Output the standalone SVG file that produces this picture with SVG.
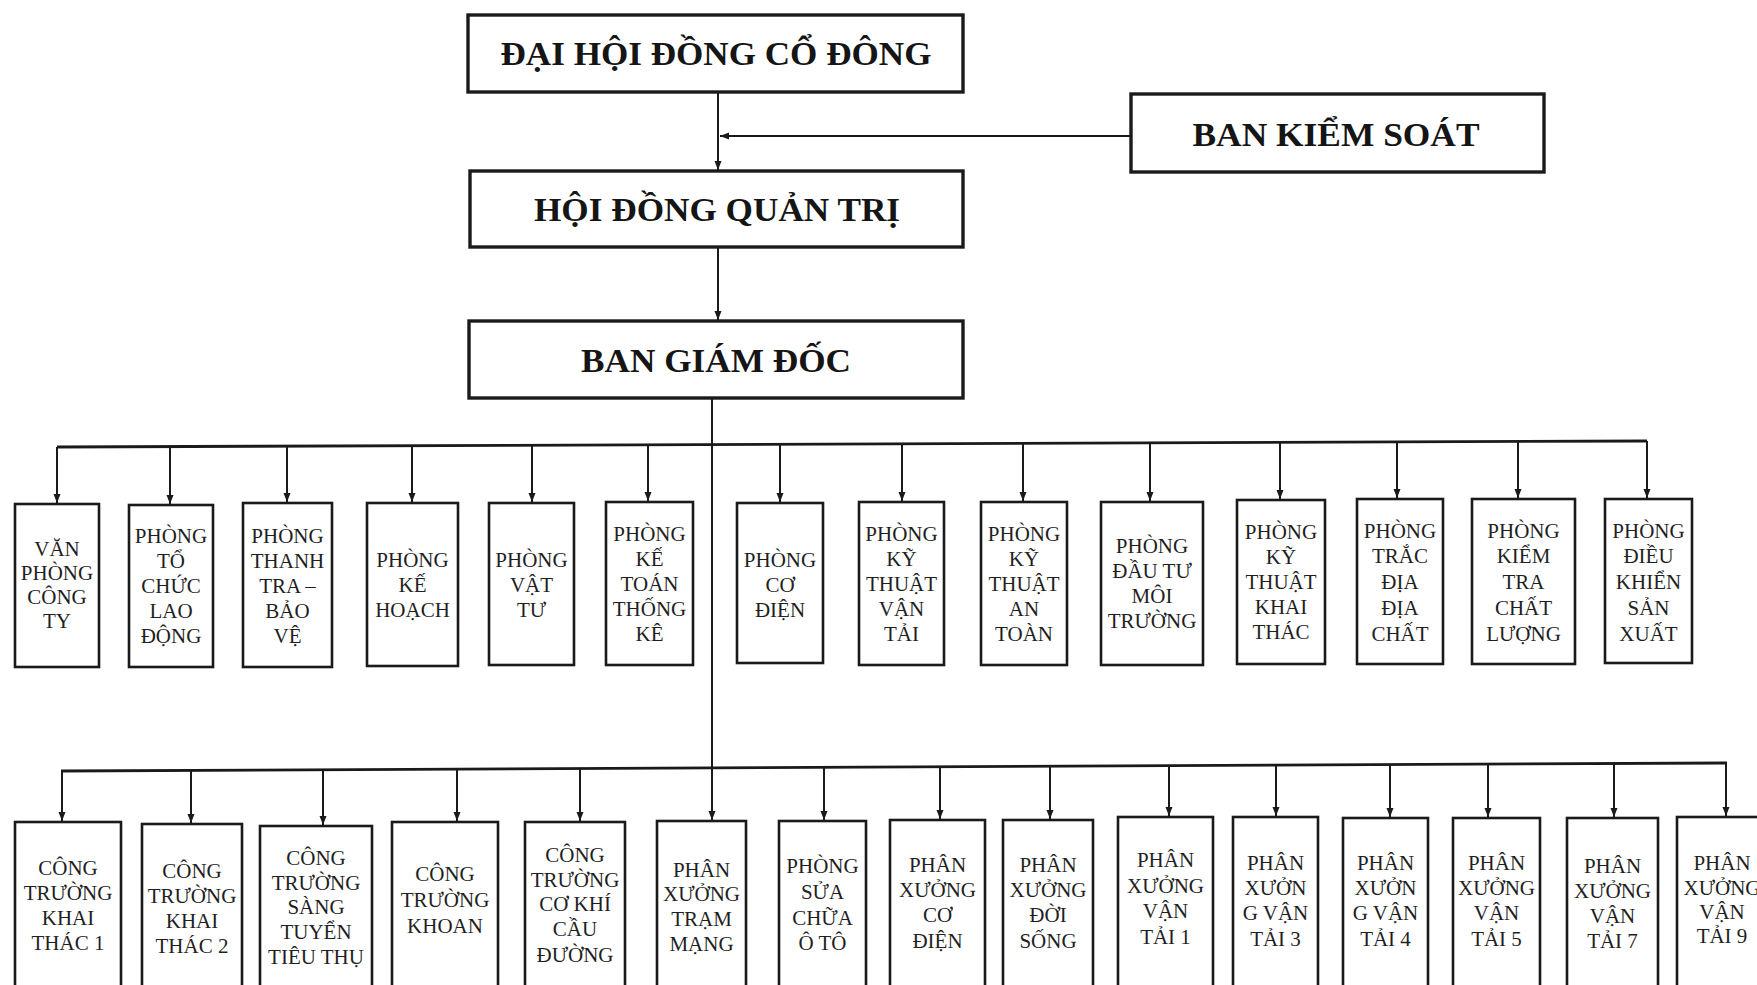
<svg xmlns="http://www.w3.org/2000/svg" width="1757" height="985" viewBox="0 0 1757 985">
<style>
.bg{fill:#ffffff}
.box{fill:#ffffff;stroke:#1a1a1a;stroke-width:2.6}
.big{fill:#ffffff;stroke:#1a1a1a;stroke-width:3.4}
.ln{fill:none;stroke:#1a1a1a;stroke-width:2}
.bus{fill:none;stroke:#1a1a1a;stroke-width:2.8}
.t{font-family:"Liberation Serif","DejaVu Serif",serif;font-size:21px;text-anchor:middle;fill:#1f1f1f}
.h{font-family:"Liberation Serif","DejaVu Serif",serif;font-size:33px;font-weight:bold;text-anchor:middle;fill:#151515}
</style>
<defs>
<marker id="ah" markerUnits="userSpaceOnUse" markerWidth="10" markerHeight="10" refX="9" refY="5" orient="auto">
<path d="M0,1.5 L9,5 L0,8.5 Z" fill="#1a1a1a"/>
</marker>
</defs>
<rect class="bg" x="0" y="0" width="1757" height="985"/>

<g id="connectors">
<line class="ln" x1="718" y1="92" x2="718" y2="170" marker-end="url(#ah)"/>
<line class="ln" x1="1131" y1="136" x2="720" y2="136" marker-end="url(#ah)"/>
<line class="ln" x1="718" y1="247" x2="718" y2="320" marker-end="url(#ah)"/>
<line class="ln" x1="712" y1="398" x2="712" y2="820" marker-end="url(#ah)"/>
<line class="bus" x1="57" y1="447" x2="1647" y2="441"/>
<line class="ln" x1="57" y1="447" x2="57" y2="503" marker-end="url(#ah)"/>
<line class="ln" x1="170" y1="446.6" x2="170" y2="504" marker-end="url(#ah)"/>
<line class="ln" x1="287" y1="446.1" x2="287" y2="502" marker-end="url(#ah)"/>
<line class="ln" x1="412" y1="445.7" x2="412" y2="502" marker-end="url(#ah)"/>
<line class="ln" x1="532" y1="445.2" x2="532" y2="502" marker-end="url(#ah)"/>
<line class="ln" x1="648" y1="444.8" x2="648" y2="501" marker-end="url(#ah)"/>
<line class="ln" x1="780" y1="444.3" x2="780" y2="502" marker-end="url(#ah)"/>
<line class="ln" x1="902" y1="443.8" x2="902" y2="501" marker-end="url(#ah)"/>
<line class="ln" x1="1023" y1="443.4" x2="1023" y2="501" marker-end="url(#ah)"/>
<line class="ln" x1="1150" y1="442.9" x2="1150" y2="501" marker-end="url(#ah)"/>
<line class="ln" x1="1280" y1="442.4" x2="1280" y2="499" marker-end="url(#ah)"/>
<line class="ln" x1="1397" y1="442" x2="1397" y2="498" marker-end="url(#ah)"/>
<line class="ln" x1="1518" y1="441.5" x2="1518" y2="498" marker-end="url(#ah)"/>
<line class="ln" x1="1647" y1="441" x2="1647" y2="498" marker-end="url(#ah)"/>
<line class="bus" x1="61" y1="771" x2="1727" y2="763"/>
<line class="ln" x1="62" y1="771" x2="62" y2="821" marker-end="url(#ah)"/>
<line class="ln" x1="191" y1="770.4" x2="191" y2="823" marker-end="url(#ah)"/>
<line class="ln" x1="323" y1="769.7" x2="323" y2="825" marker-end="url(#ah)"/>
<line class="ln" x1="457" y1="769.1" x2="457" y2="821" marker-end="url(#ah)"/>
<line class="ln" x1="580" y1="768.5" x2="580" y2="821" marker-end="url(#ah)"/>
<line class="ln" x1="824" y1="767.3" x2="824" y2="820" marker-end="url(#ah)"/>
<line class="ln" x1="940" y1="766.8" x2="940" y2="819" marker-end="url(#ah)"/>
<line class="ln" x1="1050" y1="766.3" x2="1050" y2="819" marker-end="url(#ah)"/>
<line class="ln" x1="1169" y1="765.7" x2="1169" y2="816" marker-end="url(#ah)"/>
<line class="ln" x1="1276" y1="765.2" x2="1276" y2="816" marker-end="url(#ah)"/>
<line class="ln" x1="1390" y1="764.6" x2="1390" y2="817" marker-end="url(#ah)"/>
<line class="ln" x1="1488" y1="764.1" x2="1488" y2="817" marker-end="url(#ah)"/>
<line class="ln" x1="1614" y1="763.5" x2="1614" y2="817" marker-end="url(#ah)"/>
<line class="ln" x1="1726" y1="763" x2="1726" y2="816" marker-end="url(#ah)"/>
</g>

<g id="dhdcd"><rect class="big" x="468" y="15" width="495" height="77"/><text class="h" x="716" y="65" textLength="431" lengthAdjust="spacingAndGlyphs">ĐẠI HỘI ĐỒNG CỔ ĐÔNG</text></g>
<g id="bks"><rect class="big" x="1131" y="94" width="413" height="78"/><text class="h" x="1336" y="146" textLength="287" lengthAdjust="spacingAndGlyphs">BAN KIỂM SOÁT</text></g>
<g id="hdqt"><rect class="big" x="470" y="171" width="493" height="76"/><text class="h" x="717" y="221" textLength="366" lengthAdjust="spacingAndGlyphs">HỘI ĐỒNG QUẢN TRỊ</text></g>
<g id="bgd"><rect class="big" x="469" y="321" width="494" height="77"/><text class="h" x="716" y="372" textLength="270" lengthAdjust="spacingAndGlyphs">BAN GIÁM ĐỐC</text></g>

<g id="r1-1"><rect class="box" x="15" y="504" width="84" height="163"/><text class="t"><tspan x="57" y="556">VĂN</tspan><tspan x="57" y="580">PHÒNG</tspan><tspan x="57" y="604">CÔNG</tspan><tspan x="57" y="628">TY</tspan></text></g>
<g id="r1-2"><rect class="box" x="129" y="505" width="84" height="162"/><text class="t"><tspan x="171" y="543">PHÒNG</tspan><tspan x="171" y="568">TỔ</tspan><tspan x="171" y="593">CHỨC</tspan><tspan x="171" y="618">LAO</tspan><tspan x="171" y="643">ĐỘNG</tspan></text></g>
<g id="r1-3"><rect class="box" x="243" y="503" width="89" height="164"/><text class="t"><tspan x="287.5" y="543">PHÒNG</tspan><tspan x="287.5" y="568">THANH</tspan><tspan x="287.5" y="593">TRA –</tspan><tspan x="287.5" y="618">BẢO</tspan><tspan x="287.5" y="643">VỆ</tspan></text></g>
<g id="r1-4"><rect class="box" x="367" y="503" width="91" height="163"/><text class="t"><tspan x="412.5" y="567">PHÒNG</tspan><tspan x="412.5" y="592">KẾ</tspan><tspan x="412.5" y="617">HOẠCH</tspan></text></g>
<g id="r1-5"><rect class="box" x="489" y="503" width="85" height="162"/><text class="t"><tspan x="531.5" y="567">PHÒNG</tspan><tspan x="531.5" y="592">VẬT</tspan><tspan x="531.5" y="617">TƯ</tspan></text></g>
<g id="r1-6"><rect class="box" x="606" y="502" width="87" height="163"/><text class="t"><tspan x="649.5" y="541">PHÒNG</tspan><tspan x="649.5" y="566">KẾ</tspan><tspan x="649.5" y="591">TOÁN</tspan><tspan x="649.5" y="616">THỐNG</tspan><tspan x="649.5" y="641">KÊ</tspan></text></g>
<g id="r1-7"><rect class="box" x="737" y="503" width="86" height="160"/><text class="t"><tspan x="780" y="567">PHÒNG</tspan><tspan x="780" y="592">CƠ</tspan><tspan x="780" y="617">ĐIỆN</tspan></text></g>
<g id="r1-8"><rect class="box" x="859" y="502" width="85" height="163"/><text class="t"><tspan x="901.5" y="541">PHÒNG</tspan><tspan x="901.5" y="566">KỸ</tspan><tspan x="901.5" y="591">THUẬT</tspan><tspan x="901.5" y="616">VẬN</tspan><tspan x="901.5" y="641">TẢI</tspan></text></g>
<g id="r1-9"><rect class="box" x="981" y="502" width="86" height="163"/><text class="t"><tspan x="1024" y="541">PHÒNG</tspan><tspan x="1024" y="566">KỸ</tspan><tspan x="1024" y="591">THUẬT</tspan><tspan x="1024" y="616">AN</tspan><tspan x="1024" y="641">TOÀN</tspan></text></g>
<g id="r1-10"><rect class="box" x="1101" y="502" width="102" height="163"/><text class="t"><tspan x="1152" y="553">PHÒNG</tspan><tspan x="1152" y="578">ĐẦU TƯ</tspan><tspan x="1152" y="603">MÔI</tspan><tspan x="1152" y="628">TRƯỜNG</tspan></text></g>
<g id="r1-11"><rect class="box" x="1237" y="500" width="88" height="164"/><text class="t"><tspan x="1281" y="539">PHÒNG</tspan><tspan x="1281" y="564">KỸ</tspan><tspan x="1281" y="589">THUẬT</tspan><tspan x="1281" y="614">KHAI</tspan><tspan x="1281" y="639">THÁC</tspan></text></g>
<g id="r1-12"><rect class="box" x="1357" y="499" width="86" height="165"/><text class="t"><tspan x="1400" y="538">PHÒNG</tspan><tspan x="1400" y="563">TRẮC</tspan><tspan x="1400" y="589">ĐỊA</tspan><tspan x="1400" y="615">ĐỊA</tspan><tspan x="1400" y="641">CHẤT</tspan></text></g>
<g id="r1-13"><rect class="box" x="1472" y="499" width="103" height="165"/><text class="t"><tspan x="1523.5" y="538">PHÒNG</tspan><tspan x="1523.5" y="563">KIỂM</tspan><tspan x="1523.5" y="589">TRA</tspan><tspan x="1523.5" y="615">CHẤT</tspan><tspan x="1523.5" y="641">LƯỢNG</tspan></text></g>
<g id="r1-14"><rect class="box" x="1605" y="499" width="87" height="164"/><text class="t"><tspan x="1648.5" y="538">PHÒNG</tspan><tspan x="1648.5" y="563">ĐIỀU</tspan><tspan x="1648.5" y="589">KHIỂN</tspan><tspan x="1648.5" y="615">SẢN</tspan><tspan x="1648.5" y="641">XUẤT</tspan></text></g>

<g id="r2-1"><rect class="box" x="15" y="822" width="106" height="190"/><text class="t"><tspan x="68" y="875">CÔNG</tspan><tspan x="68" y="900">TRƯỜNG</tspan><tspan x="68" y="925">KHAI</tspan><tspan x="68" y="950">THÁC 1</tspan></text></g>
<g id="r2-2"><rect class="box" x="142" y="824" width="100" height="190"/><text class="t"><tspan x="192" y="878">CÔNG</tspan><tspan x="192" y="903">TRƯỜNG</tspan><tspan x="192" y="928">KHAI</tspan><tspan x="192" y="953">THÁC 2</tspan></text></g>
<g id="r2-3"><rect class="box" x="260" y="826" width="112" height="190"/><text class="t"><tspan x="316" y="865">CÔNG</tspan><tspan x="316" y="890">TRƯỜNG</tspan><tspan x="316" y="914">SÀNG</tspan><tspan x="316" y="939">TUYỂN</tspan><tspan x="316" y="964">TIÊU THỤ</tspan></text></g>
<g id="r2-4"><rect class="box" x="392" y="822" width="106" height="190"/><text class="t"><tspan x="445" y="881">CÔNG</tspan><tspan x="445" y="907">TRƯỜNG</tspan><tspan x="445" y="933">KHOAN</tspan></text></g>
<g id="r2-5"><rect class="box" x="525" y="822" width="100" height="190"/><text class="t"><tspan x="575" y="862">CÔNG</tspan><tspan x="575" y="887">TRƯỜNG</tspan><tspan x="575" y="911">CƠ KHÍ</tspan><tspan x="575" y="936">CẦU</tspan><tspan x="575" y="962">ĐƯỜNG</tspan></text></g>
<g id="r2-6"><rect class="box" x="657" y="821" width="89" height="190"/><text class="t"><tspan x="701.5" y="877">PHÂN</tspan><tspan x="701.5" y="901">XƯỞNG</tspan><tspan x="701.5" y="926">TRẠM</tspan><tspan x="701.5" y="951">MẠNG</tspan></text></g>
<g id="r2-7"><rect class="box" x="779" y="821" width="87" height="190"/><text class="t"><tspan x="822.5" y="873">PHÒNG</tspan><tspan x="822.5" y="899">SỬA</tspan><tspan x="822.5" y="925">CHỮA</tspan><tspan x="822.5" y="950">Ô TÔ</tspan></text></g>
<g id="r2-8"><rect class="box" x="890" y="820" width="95" height="190"/><text class="t"><tspan x="937.5" y="872">PHÂN</tspan><tspan x="937.5" y="897">XƯỞNG</tspan><tspan x="937.5" y="922">CƠ</tspan><tspan x="937.5" y="948">ĐIỆN</tspan></text></g>
<g id="r2-9"><rect class="box" x="1003" y="820" width="90" height="190"/><text class="t"><tspan x="1048" y="872">PHÂN</tspan><tspan x="1048" y="897">XƯỞNG</tspan><tspan x="1048" y="922">ĐỜI</tspan><tspan x="1048" y="948">SỐNG</tspan></text></g>
<g id="r2-10"><rect class="box" x="1118" y="817" width="95" height="190"/><text class="t"><tspan x="1165.5" y="867">PHÂN</tspan><tspan x="1165.5" y="893">XƯỞNG</tspan><tspan x="1165.5" y="918">VẬN</tspan><tspan x="1165.5" y="944">TẢI 1</tspan></text></g>
<g id="r2-11"><rect class="box" x="1233" y="817" width="85" height="190"/><text class="t"><tspan x="1275.5" y="870">PHÂN</tspan><tspan x="1275.5" y="895">XƯỞN</tspan><tspan x="1275.5" y="920">G VẬN</tspan><tspan x="1275.5" y="946">TẢI 3</tspan></text></g>
<g id="r2-12"><rect class="box" x="1343" y="818" width="85" height="190"/><text class="t"><tspan x="1385.5" y="870">PHÂN</tspan><tspan x="1385.5" y="895">XƯỞN</tspan><tspan x="1385.5" y="920">G VẬN</tspan><tspan x="1385.5" y="946">TẢI 4</tspan></text></g>
<g id="r2-13"><rect class="box" x="1453" y="818" width="87" height="190"/><text class="t"><tspan x="1496.5" y="870">PHÂN</tspan><tspan x="1496.5" y="895">XƯỞNG</tspan><tspan x="1496.5" y="920">VẬN</tspan><tspan x="1496.5" y="946">TẢI 5</tspan></text></g>
<g id="r2-14"><rect class="box" x="1567" y="818" width="91" height="190"/><text class="t"><tspan x="1612.5" y="873">PHÂN</tspan><tspan x="1612.5" y="898">XƯỞNG</tspan><tspan x="1612.5" y="923">VẬN</tspan><tspan x="1612.5" y="948">TẢI 7</tspan></text></g>
<g id="r2-15"><rect class="box" x="1677" y="817" width="93" height="190"/><text class="t"><tspan x="1722" y="870">PHÂN</tspan><tspan x="1722" y="895">XƯỞNG</tspan><tspan x="1722" y="919">VẬN</tspan><tspan x="1722" y="943">TẢI 9</tspan></text></g>
</svg>
